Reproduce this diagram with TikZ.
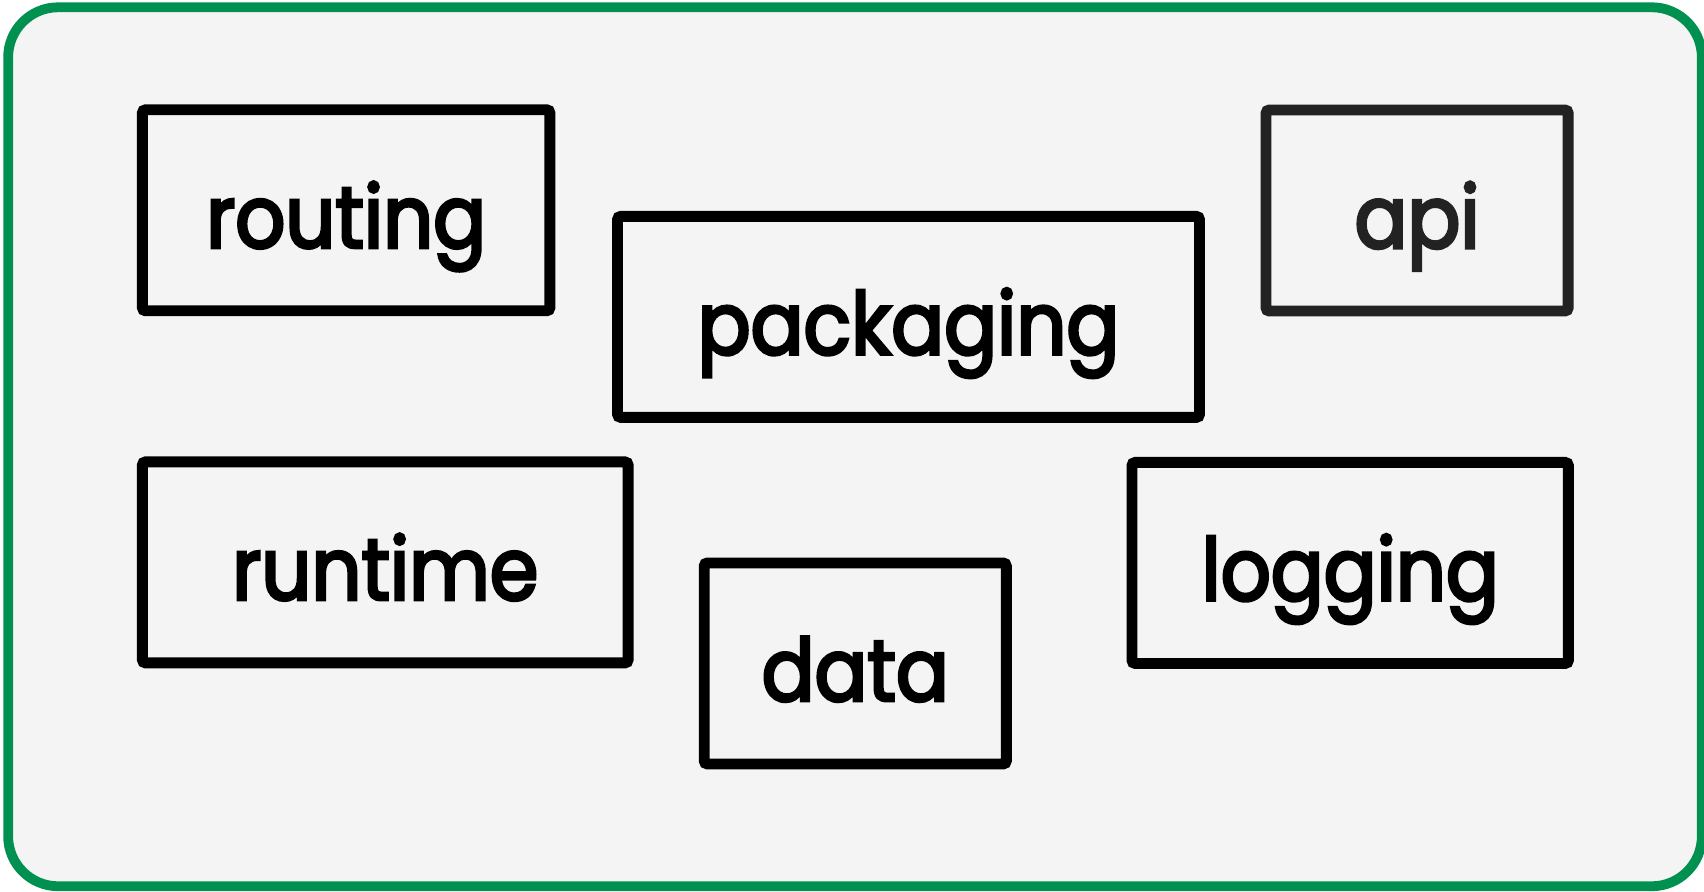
\documentclass[tikz,border=0pt]{standalone}
\usepackage{fontspec}
\newfontfamily\boxfont{Poppins}[FakeStretch=0.9, FakeBold=3.5]
\usetikzlibrary{positioning}
\definecolor{framegreen}{HTML}{009150}
\definecolor{paper}{HTML}{F4F4F4}
\definecolor{apiline}{HTML}{222222}

\begin{document}
\begin{tikzpicture}[x=1pt,y=-1pt,
    nodes={draw, rectangle, line width=10pt, rounded corners=3pt,
      font=\boxfont\fontsize{80}{90}\selectfont,
      inner sep=0pt, text height=69pt, text depth=0pt, minimum height=185pt}]
		\useasboundingbox (0,0) rectangle (1568,820);
		\draw[framegreen, fill=paper, line width=9pt, rounded corners=46pt] (7.5,6.7) rectangle (1566,815.5);
		\node (routing) [minimum width=375pt] at (318.5,193.5) {routing};
		\node (packaging) [minimum width=535.5pt] at (836,291.6) {packaging};
		\node (api) [minimum width=278pt, draw=apiline, text=apiline] at (1304,193.7) {api};
		\node (runtime) [minimum width=447pt] at (354.5,517.5) {runtime};
		\node (data) [minimum width=278pt] at (787,610.5) {data};
		\node (logging) [minimum width=401.6pt] at (1242.4,518) {logging};
		\end{tikzpicture}
\end{document}
